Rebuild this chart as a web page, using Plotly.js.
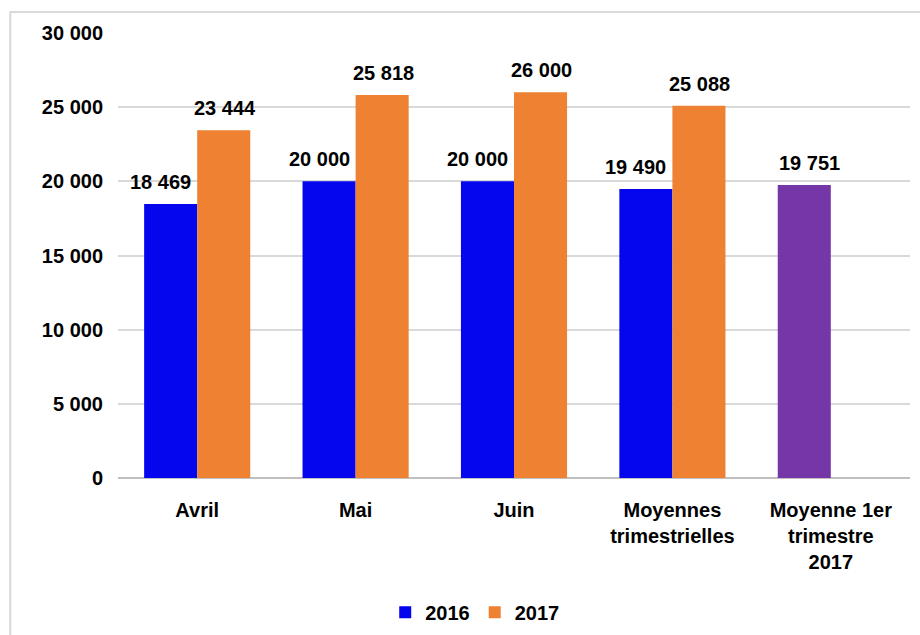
<!DOCTYPE html>
<html>
<head>
<meta charset="utf-8">
<script src="https://cdn.plot.ly/plotly-3.0.1.min.js"></script>
<style>html,body{margin:0;padding:0;background:#fff;}#chart{width:920px;height:635px;}</style>
</head>
<body>
<div id="chart"></div>
<script>
var categories = ["Avril", "Mai", "Juin", "Moyennes<br>trimestrielles", "Moyenne 1er<br>trimestre<br>2017"];
var values2016 = [18469, 20000, 20000, 19490, 19751];
var values2017 = [23444, 25818, 26000, 25088, null];
var colors2016 = ["#0505ee", "#0505ee", "#0505ee", "#0505ee", "#7536a8"];
var seriesNames = ["2016", "2017"];
var tickVals = [0, 5000, 10000, 15000, 20000, 25000, 30000];

var fontFam = "Liberation Sans, Arial, sans-serif";
var FS = 20;
var boldFont = {family: fontFam, size: FS, color: "#000", weight: "bold"};

function fmt(v) { return String(v).replace(/\B(?=(\d{3})+(?!\d))/g, " "); }

var traces = [
  {type: "bar", name: seriesNames[0], x: categories, y: values2016,
   marker: {color: colors2016}, hoverinfo: "none"},
  {type: "bar", name: seriesNames[1], x: categories, y: values2017,
   marker: {color: "#ee8232"}, hoverinfo: "none"}
];

// data labels, placed from the data values; offsets are label styling only
var halfBar = 26.5;
var annotations = [];
categories.forEach(function (c, i) {
  if (values2016[i] != null) {
    annotations.push({x: c, y: values2016[i], xref: "x", yref: "y", text: fmt(values2016[i]),
      showarrow: false, yanchor: "bottom", xanchor: "center", yshift: 9,
      xshift: -halfBar + (i < 4 ? -10 : 5), font: boldFont});
  }
  if (values2017[i] != null) {
    annotations.push({x: c, y: values2017[i], xref: "x", yref: "y", text: fmt(values2017[i]),
      showarrow: false, yanchor: "bottom", xanchor: "center", yshift: 9,
      xshift: halfBar + 1, font: boldFont});
  }
});

var layout = {
  width: 920, height: 635,
  margin: {l: 118, r: 10, t: 33, b: 157, autoexpand: false},
  separators: ", ",
  barmode: "group", bargap: 0.33, bargroupgap: 0,
  paper_bgcolor: "#fff", plot_bgcolor: "#fff",
  font: boldFont,
  xaxis: {type: "category", showgrid: false, showline: false, ticks: "",
          ticklabelstandoff: 18, tickfont: boldFont, automargin: false},
  yaxis: {range: [0, 30000], tickvals: tickVals, tickformat: ",d",
          showgrid: true, gridcolor: "#d9d9d9", gridwidth: 2,
          zeroline: true, zerolinecolor: "#c0c0c0", zerolinewidth: 2,
          showline: false, ticks: "", ticklabelstandoff: 14,
          tickfont: boldFont, automargin: false},
  legend: {orientation: "h", xref: "container", yref: "container",
           x: 0.516, xanchor: "center", y: 0.036, yanchor: "middle",
           font: boldFont, tracegroupgap: 0},
  annotations: annotations,
  shapes: [{type: "rect", xref: "paper", yref: "paper",
            x0: -0.136, x1: 1.03, y0: -0.4, y1: 1.047,
            line: {color: "#d9d9d9", width: 2}, fillcolor: "rgba(0,0,0,0)", layer: "below"}],
  showlegend: true
};

Plotly.newPlot("chart", traces, layout, {displayModeBar: false, staticPlot: true});
</script>
</body>
</html>
